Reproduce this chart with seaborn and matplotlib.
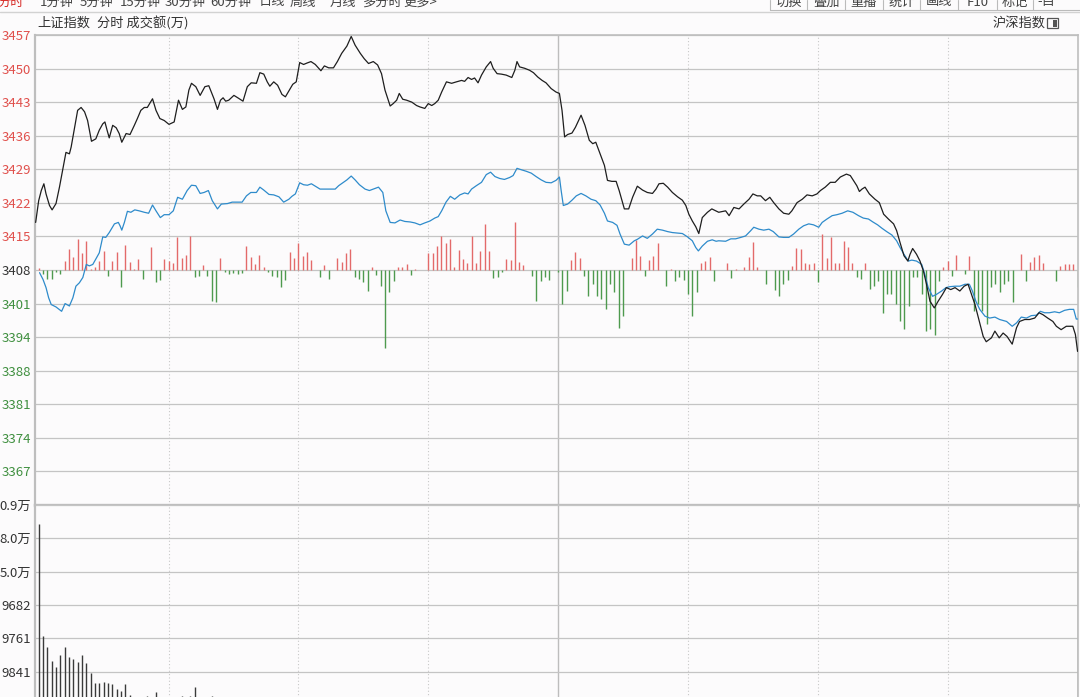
import matplotlib.pyplot as plt
import seaborn as sns
from matplotlib.patches import Rectangle

# ---------------- 数据 ----------------
menu_labels = ['分时', '1分钟', '5分钟', '15分钟', '30分钟', '60分钟', '日线', '周线', '月线', '多分时', '更多>']
menu_x = [-3, 40, 80, 120, 165, 210, 259, 290, 330, 362, 403]
button_labels = ['切换', '叠加', '重播', '统计', '画线', 'F10', '标记', '-自']
button_edges = [770, 807, 845, 883, 920, 958, 997, 1033, 1080]

price_labels = ['3457', '3450', '3443', '3436', '3429', '3422', '3415',
                '3408', '3401', '3394', '3388', '3381', '3374', '3367']
volume_labels = ['0.9万', '8.0万', '5.0万', '9682', '9761', '9841']
volume_ticks = [6, 5, 4, 3, 2, 1]

price_top = 3457.0
price_step = 6.95

# 分时价格 (分钟, 点位)
price_t = [
    -0.7, 0.0, 0.6, 1.2, 1.7, 2.5, 3.1, 4.0, 4.8, 5.6, 6.3, 7.1, 7.5, 8.3, 9.0, 9.8,
    10.6, 11.3, 12.2, 13.2, 14.0, 14.8, 15.3, 15.8, 16.3, 17.1, 17.9, 18.6, 19.2,
    20.2, 21.1, 22.1, 22.8, 23.6, 24.4, 25.1, 26.3, 27.1, 28.0, 29.0, 30.1, 31.3,
    32.3, 33.2, 34.0, 34.7, 35.3, 36.3, 37.3, 38.4, 39.3, 40.5, 41.3, 42.0, 42.6,
    43.2, 43.9, 45.1, 46.0, 47.2, 48.2, 49.1, 50.3, 51.1, 52.0, 52.8, 53.4, 54.3,
    55.2, 56.2, 57.0, 57.9, 58.7, 59.5, 60.3, 61.2, 62.0, 62.9, 63.9, 65.2, 66.0,
    67.0, 68.1, 69.0, 70.0, 71.2, 72.2, 73.1, 74.3,
    75.2, 76.2, 77.3, 78.3, 79.2, 80.0, 81.2, 81.9, 82.7, 83.3, 84.1, 85.0, 86.2,
    87.3, 88.1, 89.2, 90.0, 90.8, 91.5, 92.3, 93.1, 94.2, 95.4, 96.5, 97.7, 98.4,
    99.2, 100.0, 100.7, 101.5, 102.3, 103.4, 104.4, 105.0, 105.9, 106.9, 108.0,
    109.3, 110.0, 110.5, 111.1, 112.3, 113.4, 114.3, 115.3, 116.3, 117.2, 118.4,
    119.5, 120.3, 120.9, 121.5, 122.2, 123.2, 124.0, 125.3, 126.2, 127.2, 128.0,
    128.7, 129.7, 130.7, 131.4, 132.4, 133.4, 134.1, 135.3, 136.3, 137.2, 138.3,
    139.5, 140.6, 141.8, 142.6, 143.3, 144.3, 145.3, 146.4, 147.6, 148.7, 149.5,
    150.2, 151.0, 151.8, 152.5, 153.3, 154.5, 155.5, 156.4, 157.1,
    158.7, 159.5, 160.6, 161.8, 162.9, 164.1, 165.0, 166.0, 166.8, 167.9, 168.9,
    169.8, 171.0, 172.1, 173.3, 174.0, 175.2, 176.4, 177.5, 178.7, 179.8, 180.6,
    181.7, 182.9, 184.0, 185.2, 186.6, 187.5, 188.2, 189.0, 189.6, 190.2, 190.9,
    191.9, 193.2, 194.2, 195.2, 196.3, 197.5, 198.2, 199.0, 199.9, 200.8, 201.3,
    201.9, 202.8, 203.6, 204.4, 205.1, 205.9, 206.9, 207.8, 208.8, 209.7, 210.7,
    211.7, 212.8, 213.8, 214.7, 215.5, 216.3, 217.3, 218.2, 218.9, 220.1, 220.9,
    221.9, 222.8, 223.7, 224.9, 225.9, 226.6, 227.8, 228.9, 230.1, 231.1, 232.0,
    233.1, 234.3, 235.1, 236.2, 237.4, 238.9, 239.5, 240.0,
]
price = [
    3418.2, 3422.7, 3424.8, 3426.2, 3424.1, 3421.7, 3420.8, 3422.1, 3425.5, 3429.3,
    3432.7, 3432.4, 3433.8, 3437.9, 3441.4, 3442.0, 3441.1, 3439.3, 3435.0, 3435.5,
    3437.3, 3438.6, 3439.0, 3437.3, 3435.7, 3438.3, 3437.8, 3436.6, 3434.8, 3436.6,
    3436.4, 3438.3, 3439.7, 3441.4, 3442.0, 3442.0, 3443.8, 3441.4, 3439.7, 3439.3,
    3438.5, 3439.0, 3443.5, 3441.6, 3442.1, 3445.6, 3447.0, 3446.3, 3444.5, 3446.3,
    3446.5, 3443.8, 3441.6, 3443.5, 3444.0, 3443.3, 3443.5, 3444.5, 3444.0, 3443.3,
    3446.3, 3447.1, 3447.0, 3449.2, 3448.9, 3447.3, 3446.4, 3447.3, 3446.6, 3444.7,
    3444.2, 3445.6, 3446.8, 3447.3, 3451.3, 3450.9, 3451.2, 3451.5, 3450.9, 3449.6,
    3450.6, 3450.2, 3450.2, 3451.5, 3453.2, 3454.7, 3456.7, 3454.9, 3453.2,
    3452.1, 3451.1, 3451.5, 3450.8, 3449.0, 3445.6, 3442.3, 3442.8, 3443.5, 3444.9,
    3443.7, 3443.5, 3443.1, 3442.4, 3442.1, 3441.8, 3442.8, 3442.4, 3442.8, 3443.5,
    3445.2, 3447.3, 3447.0, 3447.3, 3447.6, 3447.4, 3448.2, 3447.8, 3448.1, 3447.1,
    3448.7, 3450.4, 3451.5, 3450.1, 3449.0, 3448.9, 3448.7, 3448.2, 3449.7, 3451.5,
    3450.4, 3450.1, 3449.7, 3449.2, 3448.3, 3447.6, 3447.1, 3445.9, 3445.2, 3444.9,
    3441.4, 3435.9, 3436.4, 3436.7, 3437.9, 3440.4, 3438.3, 3435.2, 3434.5, 3434.8,
    3432.4, 3430.0, 3426.9, 3426.7, 3426.7, 3424.8, 3421.0, 3421.0, 3423.4, 3425.7,
    3424.9, 3424.4, 3424.2, 3425.1, 3426.2, 3426.3, 3425.5, 3424.4, 3423.5, 3422.8,
    3421.7, 3419.9, 3418.5, 3417.3, 3415.9, 3419.2, 3420.3, 3421.0, 3420.6, 3420.3,
    3420.6, 3419.6, 3421.3, 3421.0, 3422.0, 3423.0, 3424.1, 3423.7, 3423.7, 3422.7,
    3423.4, 3422.3, 3421.0, 3420.1, 3419.9, 3420.6, 3422.3, 3423.0, 3423.9, 3423.7,
    3424.1, 3424.8, 3425.5, 3426.5, 3426.5, 3427.6, 3428.2, 3427.9, 3426.9, 3425.8,
    3424.6, 3425.1, 3425.5, 3424.1, 3423.0, 3422.3, 3419.9, 3418.9, 3417.9, 3416.5,
    3414.0, 3411.3, 3410.2, 3411.6, 3412.8, 3411.6, 3410.2, 3408.1, 3405.4, 3401.9,
    3400.5, 3401.9, 3403.3, 3404.7, 3404.3, 3404.7, 3404.0, 3405.0, 3405.4, 3403.3,
    3401.2, 3397.7, 3394.6, 3393.5, 3394.3, 3395.7, 3394.3, 3395.3, 3394.6, 3393.0,
    3396.4, 3397.7, 3398.1, 3398.1, 3398.4, 3399.5, 3399.1, 3398.4, 3397.7, 3396.7,
    3396.0, 3396.7, 3396.7, 3395.0, 3391.5,
]

# 均价线 (分钟, 点位)
avg_t = [
    0.2, 1.0, 1.7, 2.3, 2.9, 4.0, 5.3, 6.1, 7.1, 7.9, 8.6, 9.4, 10.2, 11.0, 11.7,
    12.5, 13.2, 14.0, 14.8, 15.5, 16.3, 17.5, 18.4, 18.8, 19.2, 19.8, 20.5, 21.3,
    22.2, 23.2, 24.4, 25.4, 26.3, 27.1, 28.1, 29.0, 30.1, 31.1, 32.1, 33.2, 34.3,
    35.3, 36.3, 37.3, 38.2, 39.2, 40.1, 41.3, 42.2, 43.6, 44.7, 45.9, 47.0, 48.0,
    49.0, 50.3, 51.1, 52.0, 53.2, 54.3, 55.5, 56.6, 57.8, 58.5, 59.3, 60.3, 61.2,
    62.1, 63.0, 63.9, 65.0, 66.2, 67.3, 68.5, 69.3, 70.4, 71.2, 72.2, 73.1, 74.1,
    75.4, 76.4, 77.3, 78.5, 79.5, 80.2, 81.2, 82.3, 83.5, 84.6, 85.8, 86.9, 88.1,
    89.2, 90.4, 91.5, 92.3, 93.1, 94.1, 95.1, 96.1, 97.3, 98.4, 99.2, 100.0, 101.1,
    102.3, 103.4, 104.4, 105.4, 106.5, 107.6, 108.8, 109.6, 110.5, 111.5, 112.6,
    113.8, 114.9, 116.1, 117.2, 118.4, 119.5, 120.3, 120.7, 121.2, 122.2, 123.2,
    124.2, 125.3, 126.4, 127.6, 128.7, 129.7, 130.7, 131.4, 132.6, 133.6, 134.3,
    135.3, 136.4, 137.6, 138.3, 139.5, 140.6, 141.8, 142.9, 144.1, 145.3, 146.4,
    147.6, 148.7, 149.9, 151.0, 151.8, 152.4, 153.3, 154.5, 155.6, 156.5, 157.1,
    158.7, 159.9, 161.0, 162.2, 163.3, 164.5, 165.2, 166.4, 167.5, 168.7, 169.7,
    171.0, 172.1, 173.3, 174.4, 175.6, 176.7, 177.9, 179.0, 180.2, 181.0, 182.1,
    183.3, 184.4, 185.6, 186.9, 188.1, 189.4, 190.5, 191.7, 192.7, 193.8, 194.8,
    195.9, 197.1, 198.2, 199.0, 199.9, 200.9, 201.7, 202.8, 204.0, 204.7, 205.5,
    206.5, 207.4, 208.6, 209.6, 210.5, 211.7, 212.8, 214.0, 215.0, 215.7, 216.5,
    217.4, 218.6, 219.7, 220.9, 222.0, 223.6, 224.9, 225.9, 227.0, 228.2, 229.3,
    230.5, 231.4, 232.4, 233.5, 234.7, 235.8, 237.0, 238.1, 239.1, 239.7, 240.0,
]
avg_price = [
    3407.8, 3406.4, 3404.7, 3402.6, 3401.2, 3400.7, 3399.8, 3401.4, 3400.9, 3402.6,
    3405.0, 3405.7, 3406.8, 3409.5, 3409.2, 3409.5, 3410.6, 3411.9, 3415.2, 3415.1,
    3416.1, 3417.9, 3418.2, 3417.5, 3416.6, 3418.2, 3420.5, 3420.3, 3420.8, 3420.6,
    3420.3, 3420.1, 3421.8, 3420.6, 3419.2, 3419.8, 3419.8, 3420.6, 3423.4, 3423.0,
    3424.8, 3425.9, 3425.8, 3424.2, 3424.4, 3424.8, 3422.7, 3421.0, 3422.0, 3422.1,
    3422.4, 3422.4, 3422.4, 3423.7, 3424.4, 3424.4, 3425.5, 3424.9, 3424.0, 3423.9,
    3423.5, 3422.4, 3423.0, 3423.6, 3424.1, 3426.4, 3426.0, 3425.9, 3426.2, 3425.7,
    3425.1, 3425.1, 3425.1, 3425.1, 3425.8, 3426.5, 3427.0, 3427.8, 3427.0, 3426.0,
    3425.1, 3424.8, 3425.1, 3425.5, 3424.4, 3420.6, 3418.2, 3418.1, 3418.7, 3418.4,
    3418.3, 3418.1, 3417.7, 3418.1, 3418.5, 3419.1, 3419.4, 3420.6, 3422.4, 3423.6,
    3423.0, 3423.9, 3424.3, 3424.1, 3425.1, 3425.8, 3426.5, 3428.1, 3428.6, 3427.7,
    3427.3, 3427.1, 3427.5, 3427.9, 3429.4, 3429.1, 3428.8, 3428.4, 3427.7, 3427.0,
    3426.5, 3426.4, 3426.9, 3427.6, 3424.8, 3421.7, 3422.0, 3422.8, 3423.7, 3424.2,
    3423.7, 3423.0, 3422.7, 3421.8, 3420.1, 3418.5, 3418.2, 3417.6, 3415.8, 3413.7,
    3413.5, 3414.4, 3414.7, 3415.4, 3414.9, 3415.8, 3416.8, 3416.6, 3416.3, 3416.1,
    3416.0, 3415.9, 3415.2, 3414.4, 3413.0, 3412.3, 3413.3, 3414.3, 3414.6, 3414.3,
    3414.4,
    3414.3, 3414.8, 3414.8, 3415.1, 3415.4, 3416.5, 3417.2, 3416.8, 3416.6, 3416.8,
    3416.3, 3415.2, 3415.1, 3415.1, 3415.8, 3416.8, 3417.5, 3417.9, 3417.7, 3417.2,
    3418.2, 3418.9, 3419.6, 3419.8, 3420.1, 3420.6, 3420.3, 3419.6, 3419.1, 3418.9,
    3418.3, 3417.7, 3417.0, 3416.3, 3415.6, 3414.4, 3413.0, 3411.6, 3410.2, 3410.4,
    3410.2, 3409.5, 3407.5, 3404.7, 3402.9, 3403.3, 3404.0, 3404.7, 3404.9, 3405.0,
    3405.0, 3405.4, 3405.4, 3404.0, 3401.9, 3400.2, 3398.8, 3398.4, 3398.6, 3398.1,
    3397.7, 3396.7, 3397.4, 3398.6, 3398.4, 3398.9, 3399.0, 3399.8, 3399.5, 3399.5,
    3399.7, 3399.5, 3400.0, 3400.2, 3400.2, 3398.2, 3398.2,
]

# 红绿柱 (每分钟, 相对昨收的点数)
flow = [
    0.4, -0.83, -1.87, -1.87, -0.5, -0.83, 1.94, 4.37, 2.77, 6.44,
    3.47, 6.10, 0.2, 0.55, 1.80, 4.02, -1.18, 1.94, 3.67, -3.60,
    5.27, 1.59, 0.2, 2.22, -1.87, 0, 4.85, -2.43, -2.08, 2.29,
    1.80, 1.46, 6.93, 2.49, 3.12, 7.14, -1.52, -1.18, 1.04, -1.18,
    -6.38, -6.72, 2.49, -0.49, -0.83, -0.69, -0.83, -0.69, 5.06, 2.63,
    1.25, 3.19, 0.55, -0.49, -1.18, -1.52, -3.47, -2.08, 3.67, 2.49,
    5.61, 2.84, 3.67, 2.08, 0, -1.52, 1.04, -1.87, 0, 2.49,
    1.59, 3.47, 4.37, -1.52, -1.87, -2.56, -4.30, 0.69, -0.97, -3.26,
    -16.1, -4.64, -2.22, 0.69, 0.69, 1.25, -0.97, 0.2, 0, 0,
    3.47, 3.47, 5.06, 7.14, 5.54, 6.44, 0.55, 4.16, 2.29, 1.39,
    7.14, 1.39, 3.88, 9.56, 3.88, -1.66, -1.39, -0.49, 2.22, 2.08,
    9.91, 1.59, 1.04, 0, -1.18, -6.38, -2.22, -1.52, -2.08, 0,
    -0.49, -7.07, -4.30, 2.08, 3.67, 2.49, -1.18, -5.34, -2.91, -5.34,
    -6.03, -8.11, -2.91, -4.64, -11.92, -9.49, 0, 2.49, 6.31, 2.98,
    -1.18, 2.08, 2.98, 5.54, 0, -3.26, 0.3, -2.22, -1.52, -2.08,
    -4.99, -9.49, -4.64, 1.39, 1.94, 2.63, -2.36, 0, 0, 1.39,
    -1.66, 0.2, 0, 0.69, 2.77, 5.75, 0.69, 0, -2.91, 0,
    -4.16, -5.34, -2.91, -2.08, 0.9, 4.5, 4.37, 1.46, 1.25, 1.46,
    -2.56, 7.48, 2.49, 6.93, 1.46, 1.46, 5.96, 4.85, 1.46, -1.52,
    -1.87, 1.46, -3.95, -3.26, -2.22, -9.0, -4.99, -4.99, -7.07, -10.5,
    -12.3, -7.4, -1.52, -1.52, -4.99, -12.6, -12.3, -13.4, -2.22, 0.55,
    1.94, -1.18, 3.12, 0, -0.83, 2.91, -8.45, -7.07, -8.45, -11.2,
    -3.6, -2.91, -4.64, -2.91, -2.22, -6.72, 0, 3.33, -2.22, 1.59,
    2.63, 3.12, 1.46, 0, 0, -2.22, 0.76, 1.25, 1.25, 1.25,
    -3.5,
]

# 成交额 (每分钟, 下方副图刻度单位)
volume = [
    5.42, 2.08, 1.75, 1.33, 1.13, 1.51, 1.75, 1.43, 1.37, 1.30,
    1.51, 1.27, 0.97, 0.65, 0.65, 0.68, 0.65, 0.63, 0.48, 0.43,
    0.63, 0.30, 0.22, 0.21, 0.25, 0.27, 0.22, 0.38, 0.21, 0.19,
    0.20, 0.21, 0.23, 0.27, 0.20, 0.27, 0.55, 0.21, 0.19, 0.18,
    0.27, 0.20, 0.18, 0.17, 0.16, 0.18, 0.19, 0.17, 0.20, 0.18,
    0.17, 0.19, 0.16, 0.15, 0.17, 0.18, 0.20, 0.17, 0.19, 0.21,
    0.22, 0.18, 0.17, 0.16, 0.15, 0.17, 0.16, 0.18, 0.15, 0.16,
    0.17, 0.19, 0.20, 0.17, 0.16, 0.18, 0.19, 0.15, 0.14, 0.17,
    0.22, 0.19, 0.17, 0.15, 0.14, 0.15, 0.14, 0.13, 0.14, 0.15,
    0.16, 0.15, 0.17, 0.18, 0.16, 0.17, 0.14, 0.15, 0.14, 0.13,
    0.17, 0.14, 0.15, 0.19, 0.15, 0.14, 0.13, 0.12, 0.14, 0.13,
    0.18, 0.14, 0.13, 0.12, 0.13, 0.16, 0.14, 0.13, 0.14, 0.12,
    0.15, 0.21, 0.18, 0.16, 0.15, 0.14, 0.13, 0.16, 0.14, 0.15,
    0.16, 0.18, 0.15, 0.16, 0.20, 0.19, 0.14, 0.13, 0.16, 0.14,
    0.13, 0.14, 0.13, 0.15, 0.12, 0.14, 0.12, 0.13, 0.13, 0.14,
    0.15, 0.18, 0.15, 0.13, 0.13, 0.14, 0.14, 0.12, 0.12, 0.13,
    0.13, 0.12, 0.12, 0.13, 0.14, 0.16, 0.12, 0.11, 0.13, 0.12,
    0.14, 0.15, 0.13, 0.12, 0.12, 0.14, 0.14, 0.13, 0.12, 0.13,
    0.13, 0.16, 0.13, 0.15, 0.12, 0.13, 0.15, 0.14, 0.12, 0.12,
    0.12, 0.13, 0.14, 0.14, 0.13, 0.17, 0.15, 0.15, 0.16, 0.18,
    0.20, 0.17, 0.13, 0.13, 0.15, 0.20, 0.19, 0.21, 0.14, 0.12,
    0.13, 0.12, 0.13, 0.12, 0.12, 0.13, 0.16, 0.15, 0.16, 0.18,
    0.14, 0.13, 0.14, 0.13, 0.13, 0.15, 0.12, 0.13, 0.13, 0.12,
    0.13, 0.14, 0.12, 0.12, 0.11, 0.13, 0.12, 0.13, 0.13, 0.14,
    4.65,
]
minutes = list(range(len(volume)))

# ---------------- 样式 ----------------
sns.set_style('white')
plt.rcParams['font.family'] = ['Noto Sans CJK SC', 'DejaVu Sans']
plt.rcParams['axes.unicode_minus'] = False

W, H = 1080, 697
BG = '#FCFBFC'
GRID = '#C4C4C4'
RED = '#E0504C'
GREEN = '#3F8F3F'
BAR_RED = '#E36A6A'
BAR_GREEN = '#4E9A4E'
BLUE = '#2E8BCB'

fig = plt.figure(figsize=(W / 100, H / 100), dpi=100)
fig.patch.set_facecolor(BG)

# 顶部工具栏 (像素坐标的覆盖层)
deco = fig.add_axes([0, 0, 1, 1])
deco.set_xlim(0, W)
deco.set_ylim(H, 0)
deco.axis('off')
for i, (lab, x) in enumerate(zip(menu_labels, menu_x)):
    deco.text(x, 2, lab, fontsize=9.5, va='center', ha='left',
              color='#D8302C' if i == 0 else '#444444')
for i, lab in enumerate(button_labels):
    x0, x1 = button_edges[i], button_edges[i + 1]
    cx = (x0 + x1) / 2 if i < len(button_labels) - 1 else x0 + 4
    deco.text(cx, 2, lab, fontsize=9.5, va='center',
              ha='center' if i < len(button_labels) - 1 else 'left', color='#444444')
    deco.plot([x0, x0], [0, 9.5], color='#BBBBBB', lw=0.8)
deco.plot([button_edges[0], W], [9.5, 9.5], color='#BBBBBB', lw=0.8)
deco.plot([0, W], [12, 12], color='#D2D2D2', lw=1.0)

deco.text(37, 23, '上证指数', fontsize=9.5, va='center', ha='left', color='#333333')
deco.text(97, 23, '分时 成交额(万)', fontsize=9.5, va='center', ha='left', color='#333333')
deco.text(993, 23, '沪深指数', fontsize=9.5, va='center', ha='left', color='#333333')
deco.add_patch(Rectangle((1047, 18), 11, 10, fill=False, ec='#555555', lw=0.9))
deco.add_patch(Rectangle((1052.5, 19.5), 4, 7, fc='#555555', ec='none'))

# ---------------- 上方主图 ----------------
ax = fig.add_axes([35 / W, 1 - 505 / H, (1078 - 35) / W, 470 / H])
ax.set_facecolor(BG)
ax.set_xlim(-0.85, 240.1)
ax.set_ylim(price_top - 14 * price_step, price_top)

price_ticks = [price_top - k * price_step for k in range(len(price_labels))]
ax.set_yticks(price_ticks)
ax.set_yticklabels(price_labels, fontsize=9.5)
for k, lbl in enumerate(ax.get_yticklabels()):
    lbl.set_color(RED if k < 7 else ('#333333' if k == 7 else GREEN))
ax.set_xticks([])
ax.tick_params(axis='y', length=0, pad=3)
ax.yaxis.grid(True, color=GRID, lw=0.9)
ax.set_axisbelow(True)

for t in [30, 60, 90, 150, 180, 210]:
    ax.axvline(t, color='#C8C8C8', lw=0.8, ls=(0, (1, 2)), zorder=0.5)
ax.axvline(120, color='#BDBDBD', lw=1.0, zorder=0.5)

base = price_top - 7 * price_step
ax.vlines(minutes, base, [base + v for v in flow],
          colors=[BAR_RED if v > 0 else BAR_GREEN for v in flow], lw=1.0, zorder=2)

sns.lineplot(x=avg_t, y=avg_price, ax=ax, color=BLUE, lw=0.9,
             sort=False, estimator=None, zorder=3)
sns.lineplot(x=price_t, y=price, ax=ax, color='#1E1E1E', lw=0.9,
             sort=False, estimator=None, zorder=4)
ax.set_xlabel('')
ax.set_ylabel('')

for name, sp in ax.spines.items():
    sp.set_color('#BEBEBE')
    sp.set_linewidth(1.2)
ax.spines['left'].set_linewidth(1.6)
ax.spines['bottom'].set_linewidth(2.4)

# ---------------- 下方成交额副图 ----------------
ax2 = fig.add_axes([35 / W, 1 - 705 / H, (1078 - 35) / W, 200 / H])
ax2.set_facecolor(BG)
ax2.set_xlim(-0.85, 240.1)
ax2.set_ylim(0, 6)
ax2.set_yticks(volume_ticks)
ax2.set_yticklabels(volume_labels, fontsize=9.5, color='#333333')
ax2.set_xticks([])
ax2.tick_params(axis='y', length=0, pad=3)
ax2.yaxis.grid(True, color=GRID, lw=0.9)
ax2.set_axisbelow(True)
for t in [30, 60, 90, 150, 180, 210]:
    ax2.axvline(t, color='#C8C8C8', lw=0.8, ls=(0, (1, 2)), zorder=0.5)
ax2.axvline(120, color='#BDBDBD', lw=1.0, zorder=0.5)
ax2.vlines(minutes, 0, volume, colors='#3A3A3A', lw=1.0, zorder=2)
for name, sp in ax2.spines.items():
    sp.set_color('#BEBEBE')
    sp.set_linewidth(1.2)
ax2.spines['left'].set_linewidth(1.6)
ax2.spines['top'].set_visible(False)
ax2.spines['bottom'].set_visible(False)

fig.savefig('out.png', dpi=100, facecolor=BG)
